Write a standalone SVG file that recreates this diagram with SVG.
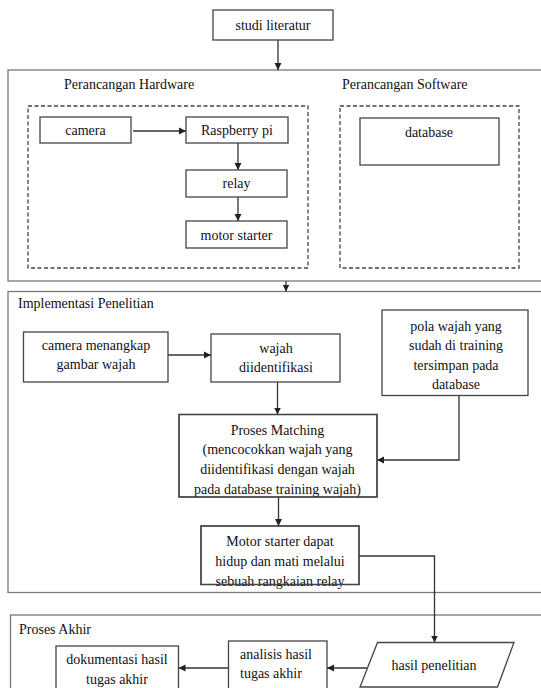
<svg xmlns="http://www.w3.org/2000/svg" width="541" height="688" viewBox="0 0 541 688">
<defs>
<marker id="ah" markerWidth="8" markerHeight="8" refX="7" refY="4" orient="auto" markerUnits="userSpaceOnUse">
<path d="M0,0.5 L7,4 L0,7.5 Z" fill="#222"/>
</marker>
</defs>
<style>
text{font-family:"Liberation Serif","Times New Roman",serif;font-size:14px;fill:#111}
.c{text-anchor:middle}
.box{fill:#fff;stroke:#444;stroke-width:1.3}
.outer{fill:none;stroke:#777;stroke-width:1.3}
.dash{fill:none;stroke:#444;stroke-width:1.3;stroke-dasharray:4,2.5}
.ln{fill:none;stroke:#333;stroke-width:1.3}
</style>
<rect width="541" height="688" fill="#fff"/>

<g id="containers">
<rect class="outer" x="8" y="70" width="540" height="211"/>
<text x="64" y="89">Perancangan Hardware</text>
<text x="342" y="89">Perancangan Software</text>
<rect class="dash" x="28" y="106" width="280" height="162"/>
<rect class="dash" x="340" y="106" width="179" height="162"/>
<rect class="outer" x="8" y="291.5" width="540" height="301"/>
<text x="18" y="308">Implementasi Penelitian</text>
<rect class="outer" x="10.5" y="615" width="540" height="80"/>
<text x="19" y="634">Proses Akhir</text>
</g>

<g id="connectors">
<line class="ln" x1="278" y1="40" x2="278" y2="70" marker-end="url(#ah)"/>
<line class="ln" x1="133" y1="131" x2="186" y2="131" marker-end="url(#ah)"/>
<line class="ln" x1="238" y1="143" x2="238" y2="170" marker-end="url(#ah)"/>
<line class="ln" x1="238" y1="197" x2="238" y2="221" marker-end="url(#ah)"/>
<line class="ln" x1="286" y1="281" x2="286" y2="291.5" marker-end="url(#ah)"/>
<line class="ln" x1="168" y1="355" x2="211" y2="355" marker-end="url(#ah)"/>
<line class="ln" x1="277.5" y1="382" x2="277.5" y2="414.5" marker-end="url(#ah)"/>
<polyline class="ln" points="459,395.5 459,460 377,460" marker-end="url(#ah)"/>
<line class="ln" x1="278.5" y1="497" x2="278.5" y2="526" marker-end="url(#ah)"/>
<polyline class="ln" points="359,556 434.5,556 434.5,642.5" marker-end="url(#ah)"/>
<line class="ln" x1="367.5" y1="668" x2="327" y2="668" marker-end="url(#ah)"/>
<line class="ln" x1="228.5" y1="668" x2="178.5" y2="668" marker-end="url(#ah)"/>
</g>

<g id="studi-literatur">
<rect class="box" x="213" y="10" width="120" height="30"/>
<text class="c" x="273" y="30">studi literatur</text>
</g>
<g id="camera">
<rect class="box" x="40" y="117" width="91" height="26"/>
<text class="c" x="85.5" y="135">camera</text>
</g>
<g id="raspberry-pi">
<rect class="box" x="186" y="117" width="102" height="26"/>
<text class="c" x="237" y="135">Raspberry pi</text>
</g>
<g id="relay">
<rect class="box" x="186" y="170" width="101" height="27"/>
<text class="c" x="236.5" y="188">relay</text>
</g>
<g id="motor-starter">
<rect class="box" x="186" y="221" width="101" height="27"/>
<text class="c" x="236.5" y="240">motor starter</text>
</g>
<g id="database">
<rect class="box" x="360" y="118" width="139" height="47"/>
<text class="c" x="429" y="137">database</text>
</g>
<g id="camera-menangkap">
<rect class="box" x="23.5" y="332" width="144.5" height="50"/>
<text class="c" x="96" y="350">camera menangkap</text>
<text class="c" x="96" y="369">gambar wajah</text>
</g>
<g id="wajah-diidentifikasi">
<rect class="box" x="211" y="334" width="129" height="48"/>
<text class="c" x="276" y="353">wajah</text>
<text class="c" x="276" y="372">diidentifikasi</text>
</g>
<g id="pola-wajah">
<rect class="box" x="382" y="310" width="146" height="85.5"/>
<text class="c" x="456" y="331">pola wajah yang</text>
<text class="c" x="456" y="350">sudah di training</text>
<text class="c" x="456" y="369.5">tersimpan pada</text>
<text class="c" x="456" y="389">database</text>
</g>
<g id="proses-matching">
<rect class="box" x="179" y="414.5" width="198" height="82.5"/>
<text class="c" x="277.5" y="435">Proses Matching</text>
<text class="c" x="277.5" y="454">(mencocokkan wajah yang</text>
<text class="c" x="277.5" y="473.5">diidentifikasi dengan wajah</text>
<text class="c" x="277.5" y="493.5">pada database training wajah)</text>
<rect x="179" y="414.5" width="198" height="82.5" fill="none" stroke="#444" stroke-width="1.3"/>
</g>
<g id="motor-starter-hidup">
<rect class="box" x="201" y="526" width="158" height="58.5"/>
<text class="c" x="280" y="546">Motor starter dapat</text>
<text class="c" x="280" y="566">hidup dan mati melalui</text>
<text class="c" x="280" y="586">sebuah rangkaian relay</text>
<rect x="201" y="526" width="158" height="58.5" fill="none" stroke="#444" stroke-width="1.3"/>
</g>
<g id="hasil-penelitian">
<polygon class="box" points="377.5,642.5 514,642.5 497.5,687 360,687"/>
<text class="c" x="434" y="670">hasil penelitian</text>
</g>
<g id="analisis">
<rect class="box" x="228.5" y="641" width="98.5" height="48"/>
<text x="240" y="659">analisis hasil</text>
<text x="240" y="678">tugas akhir</text>
</g>
<g id="dokumentasi">
<rect class="box" x="56" y="646" width="122.5" height="43"/>
<text class="c" x="117" y="664">dokumentasi hasil</text>
<text class="c" x="117" y="684">tugas akhir</text>
</g>
</svg>
